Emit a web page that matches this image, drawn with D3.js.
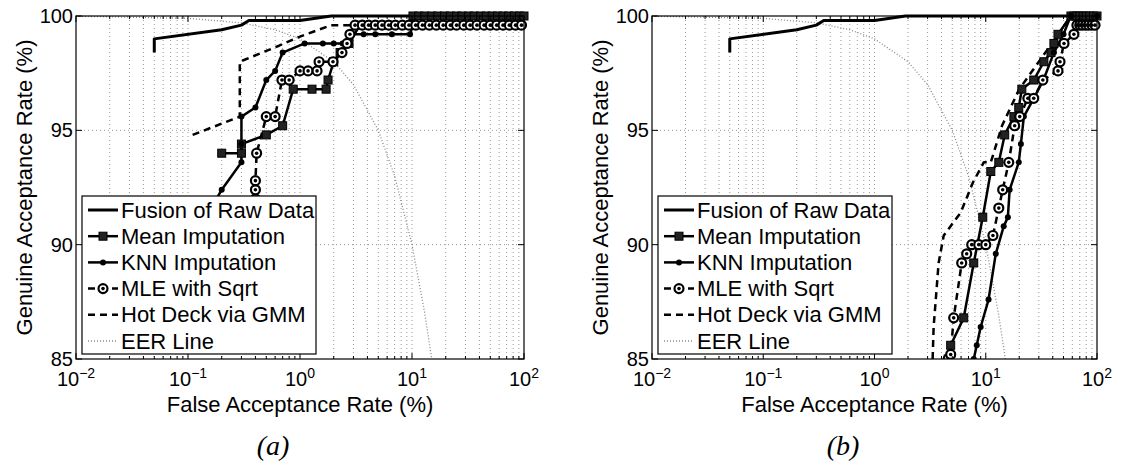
<!DOCTYPE html>
<html>
<head>
<meta charset="utf-8">
<script src="https://cdnjs.cloudflare.com/ajax/libs/d3/7.8.5/d3.min.js"></script>
<style>
  body { margin: 0; background: #fff; }
  svg text { font-family: "Liberation Sans", Arial, sans-serif; fill: #000; }
</style>
</head>
<body>
<div id="chart"></div>
<script>
// tick values and labels
var xTicks = [0.01, 0.1, 1, 10, 100];
var xTickExp = ["\u22122", "\u22121", "0", "1", "2"];
var yTicks = [85, 90, 95, 100];
var seriesNames = ["Fusion of Raw Data", "Mean Imputation", "KNN Imputation", "MLE with Sqrt", "Hot Deck via GMM", "EER Line"];
var captions = ["(a)", "(b)"];

// [FAR %, GAR %]
var fusionRaw = [[0.05, 98.4], [0.05, 99.0], [0.2, 99.4], [0.3, 99.6], [0.35, 99.8], [1.0, 99.8], [1.9, 100], [100, 100]];
var eerLine = [[0.01, 99.99], [0.1, 99.9], [0.3, 99.7], [0.6, 99.4], [1, 99], [2, 98], [3, 97], [5, 95], [7, 93], [10, 90], [13, 87], [15, 85]];

// panel (a)
var meanA = [[0.2, 94.0], [0.3, 94.0], [0.3, 94.4], [0.5, 94.8], [0.7, 95.2], [0.87, 96.8], [1.28, 96.8], [1.71, 96.8],
  [1.78, 97.2], [2.0, 98.0], [2.28, 98.4], [2.74, 98.8], [3.43, 99.6], [6.0, 99.6], [9.6, 99.6], [10.2, 100], [11.5, 100],
  [13, 100], [15, 100], [17, 100], [19.5, 100], [22, 100], [25, 100], [28, 100], [32, 100], [36, 100], [41, 100], [46, 100],
  [52, 100], [58, 100], [65, 100], [73, 100], [82, 100], [91, 100], [100, 100]];
var knnA = [[0.16, 91.6], [0.2, 92.4], [0.3, 93.6], [0.3, 94.4], [0.3, 95.6], [0.4, 96.0], [0.5, 97.2], [0.6, 97.6], [0.7, 98.4],
  [1.1, 98.8], [1.6, 98.8], [2.0, 98.8], [2.4, 98.8], [2.7, 98.8], [2.9, 99.2], [3.7, 99.2], [4.7, 99.2], [6.6, 99.2], [9.6, 99.2],
  [10.2, 99.6], [20, 99.6], [40, 99.6], [96, 99.6]];
var mleA = [[0.4, 92.0], [0.4, 92.4], [0.4, 92.8], [0.41, 94.0], [0.5, 95.6], [0.6, 95.6], [0.69, 97.2], [0.8, 97.2], [1.0, 97.6],
  [1.18, 97.6], [1.42, 97.6], [1.48, 98.0], [1.97, 98.0], [2.37, 98.4], [2.63, 98.8], [2.79, 99.2], [3.1, 99.6], [3.6, 99.6],
  [4.1, 99.6], [4.7, 99.6], [5.4, 99.6], [6.2, 99.6], [7.1, 99.6], [8.2, 99.6], [9.4, 99.6], [10.8, 99.6], [12.4, 99.6],
  [14.3, 99.6], [16.5, 99.6], [19, 99.6], [22, 99.6], [25, 99.6], [29, 99.6], [33, 99.6], [38, 99.6], [44, 99.6], [50, 99.6],
  [57, 99.6], [65, 99.6], [74, 99.6], [84, 99.6], [95, 99.6]];
var hotA = [[0.11, 94.8], [0.29, 95.6], [0.29, 98.0], [0.65, 98.7], [1.0, 99.1], [1.9, 99.6], [100, 99.6]];

// panel (b)
var meanB = [[4.6, 85.0], [4.84, 85.6], [6.34, 86.8], [7.8, 89.2], [9.4, 91.2], [11.1, 93.2], [13.1, 93.6], [14.8, 94.8],
  [17.9, 95.6], [19.8, 96.0], [21.1, 96.8], [27.0, 97.2], [33.3, 98.0], [38.6, 98.4], [41.0, 98.8], [44.6, 99.2], [58.3, 100],
  [62, 100], [66, 100], [70, 100], [75, 100], [80, 100], [86, 100], [93, 100], [100, 100]];
var knnB = [[7.8, 85.0], [8.3, 85.6], [9.0, 86.4], [10.6, 87.6], [12.3, 89.6], [14.5, 90.8], [15.8, 91.2], [16.4, 92.4],
  [19.8, 93.6], [20.7, 94.4], [22.0, 95.6], [27, 96.4], [33, 97.2], [41, 98.4], [50, 99.2], [58, 100], [100, 100]];
var mleB = [[4.6, 85.0], [4.84, 85.2], [5.15, 86.8], [6.08, 89.2], [6.74, 89.6], [7.48, 90.0], [8.65, 90.0], [10.0, 90.0],
  [11.6, 90.4], [13.1, 91.6], [14.2, 92.4], [16.1, 93.6], [18.2, 95.2], [20.2, 95.6], [23.9, 96.4], [27, 96.4], [32.6, 97.2],
  [44.6, 97.6], [46.5, 98.0], [50.5, 98.8], [62, 99.2], [66, 99.6], [70, 99.6], [74, 99.6], [79, 99.6], [84, 99.6],
  [90, 99.6], [96, 99.6]];
var hotB = [[3.33, 85.0], [3.4, 86.4], [3.77, 89.2], [4.19, 90.4], [5.95, 91.4], [7.64, 92.7], [9.6, 93.6], [11.1, 93.6],
  [14, 95.2], [20, 96.8], [30, 98.0], [45, 99.2], [58, 100], [100, 100]];

const w = 1123;
const h = 466;
const plotTop = 16;
const plotBottom = 359;

var panels = [
  {left: 76, right: 524, capX: 273, series: [meanA, knnA, mleA, hotA]},
  {left: 652, right: 1097, capX: 843, series: [meanB, knnB, mleB, hotB]}
];

const svg = d3.select("#chart")
  .append("svg")
  .attr("width", w)
  .attr("height", h);

var styles = [
  {width: 3, dash: null, marker: null},
  {width: 2.5, dash: null, marker: "square"},
  {width: 2.5, dash: null, marker: "dot"},
  {width: 2.5, dash: "7,5", marker: "circle"},
  {width: 2.5, dash: "7,5", marker: null}
];

function drawMarkers(g, data, kind, xScale, yScale) {
  if (kind === "square") {
    g.selectAll("rect.m").data(data).enter().append("rect")
      .attr("class", "m")
      .attr("x", d => xScale(d[0]) - 4)
      .attr("y", d => yScale(d[1]) - 4)
      .attr("width", 8).attr("height", 8)
      .attr("fill", "#222").attr("stroke", "#000").attr("stroke-width", 1);
  } else if (kind === "dot") {
    g.selectAll("circle.m").data(data).enter().append("circle")
      .attr("class", "m")
      .attr("cx", d => xScale(d[0])).attr("cy", d => yScale(d[1]))
      .attr("r", 3).attr("fill", "#000");
  } else if (kind === "circle") {
    g.selectAll("circle.m").data(data).enter().append("circle")
      .attr("class", "m")
      .attr("cx", d => xScale(d[0])).attr("cy", d => yScale(d[1]))
      .attr("r", 4.5).attr("fill", "#fff").attr("stroke", "#000").attr("stroke-width", 2.2);
    g.selectAll("circle.c").data(data).enter().append("circle")
      .attr("class", "c")
      .attr("cx", d => xScale(d[0])).attr("cy", d => yScale(d[1]))
      .attr("r", 1.8).attr("fill", "#000");
  }
}

panels.forEach(function (p, pi) {
  const xScale = d3.scaleLog().domain([0.01, 100]).range([p.left, p.right]);
  const yScale = d3.scaleLinear().domain([85, 100]).range([plotBottom, plotTop]);
  const g = svg.append("g");

  // grid
  var minor = [];
  for (var e = -2; e < 2; e++) {
    for (var k = 1; k <= 9; k++) minor.push(k * Math.pow(10, e));
  }
  g.selectAll("line.gx").data(minor.slice(1)).enter().append("line")
    .attr("x1", d => xScale(d)).attr("x2", d => xScale(d))
    .attr("y1", plotTop).attr("y2", plotBottom)
    .attr("stroke", "#999").attr("stroke-width", 1).attr("stroke-dasharray", "1,3");
  g.selectAll("line.gy").data([90, 95]).enter().append("line")
    .attr("x1", p.left).attr("x2", p.right)
    .attr("y1", d => yScale(d)).attr("y2", d => yScale(d))
    .attr("stroke", "#999").attr("stroke-width", 1).attr("stroke-dasharray", "1,3");

  // clip
  svg.append("clipPath").attr("id", "clip" + pi).append("rect")
    .attr("x", p.left).attr("y", plotTop - 6).attr("width", p.right - p.left + 6).attr("height", plotBottom - plotTop + 6);
  const plot = g.append("g").attr("clip-path", "url(#clip" + pi + ")");

  const line = d3.line().x(d => xScale(d[0])).y(d => yScale(d[1]));

  plot.append("path").datum(eerLine)
    .attr("d", line).attr("fill", "none")
    .attr("stroke", "#888").attr("stroke-width", 1.3).attr("stroke-dasharray", "1,2");

  var all = [fusionRaw].concat(p.series);
  all.forEach(function (data, i) {
    var st = styles[i];
    plot.append("path").datum(data)
      .attr("d", line).attr("fill", "none")
      .attr("stroke", "#000").attr("stroke-width", st.width)
      .attr("stroke-dasharray", st.dash)
      .attr("stroke-linejoin", "round");
  });
  all.forEach(function (data, i) {
    if (styles[i].marker) drawMarkers(plot.append("g"), data, styles[i].marker, xScale, yScale);
  });

  // axes box with inward ticks
  g.append("rect")
    .attr("x", p.left).attr("y", plotTop).attr("width", p.right - p.left).attr("height", plotBottom - plotTop)
    .attr("fill", "none").attr("stroke", "#000").attr("stroke-width", 1.2);
  var tickData = minor.concat([100]);
  function isMajor(d) { return Math.abs(Math.log10(d) - Math.round(Math.log10(d))) < 1e-9; }
  g.selectAll("line.tb").data(tickData).enter().append("line")
    .attr("x1", d => xScale(d)).attr("x2", d => xScale(d))
    .attr("y1", plotBottom).attr("y2", d => plotBottom - (isMajor(d) ? 6 : 3))
    .attr("stroke", "#000");
  g.selectAll("line.tt").data(tickData).enter().append("line")
    .attr("x1", d => xScale(d)).attr("x2", d => xScale(d))
    .attr("y1", plotTop).attr("y2", d => plotTop + (isMajor(d) ? 6 : 3))
    .attr("stroke", "#000");
  g.selectAll("line.tl").data(yTicks).enter().append("line")
    .attr("x1", p.left).attr("x2", p.left + 6)
    .attr("y1", d => yScale(d)).attr("y2", d => yScale(d)).attr("stroke", "#000");
  g.selectAll("line.tr").data(yTicks).enter().append("line")
    .attr("x1", p.right).attr("x2", p.right - 6)
    .attr("y1", d => yScale(d)).attr("y2", d => yScale(d)).attr("stroke", "#000");

  // y tick labels
  g.selectAll("text.yl").data(yTicks).enter().append("text")
    .attr("x", p.left - 3).attr("y", d => yScale(d) + 7)
    .attr("text-anchor", "end").attr("font-size", 20)
    .text(d => d);

  // x tick labels
  xTicks.forEach(function (t, i) {
    var tx = g.append("text")
      .attr("x", xScale(t)).attr("y", 386)
      .attr("text-anchor", "middle").attr("font-size", 20);
    tx.append("tspan").text("10");
    tx.append("tspan").attr("dy", -8).attr("font-size", 14).text(xTickExp[i]);
  });

  // axis titles
  g.append("text")
    .attr("x", (p.left + p.right) / 2).attr("y", 412)
    .attr("text-anchor", "middle").attr("font-size", 22)
    .text("False Acceptance Rate (%)");
  g.append("text")
    .attr("transform", "translate(" + (p.left - 44) + "," + ((plotTop + plotBottom) / 2) + ") rotate(-90)")
    .attr("text-anchor", "middle").attr("font-size", 22)
    .text("Genuine Acceptance Rate (%)");

  // caption
  g.append("text")
    .attr("x", p.capX).attr("y", 455)
    .attr("text-anchor", "middle")
    .style("font-family", "'Liberation Serif', serif").style("font-style", "italic")
    .attr("font-size", 28)
    .text(captions[pi]);

  // legend
  var lx = p.left + 6, ly = 196;
  const legend = g.append("g");
  legend.append("rect")
    .attr("x", lx).attr("y", ly).attr("width", 234).attr("height", 158)
    .attr("fill", "#fff").attr("stroke", "#000").attr("stroke-width", 1.2);
  seriesNames.forEach(function (name, i) {
    var cy = ly + 14 + i * 26.2;
    var x0 = lx + 6, x1 = lx + 36;
    var ln = legend.append("line")
      .attr("x1", x0).attr("x2", x1).attr("y1", cy).attr("y2", cy);
    if (i < 5) {
      ln.attr("stroke", "#000").attr("stroke-width", styles[i].width).attr("stroke-dasharray", styles[i].dash);
      if (styles[i].marker) {
        drawMarkers(legend.append("g"), [[0, 0]], styles[i].marker, () => (x0 + x1) / 2, () => cy);
      }
    } else {
      ln.attr("stroke", "#888").attr("stroke-width", 1.3).attr("stroke-dasharray", "1,2");
    }
    legend.append("text")
      .attr("x", x1 + 3).attr("y", cy + 7.5)
      .attr("font-size", 22)
      .text(name);
  });
});
</script>
</body>
</html>
